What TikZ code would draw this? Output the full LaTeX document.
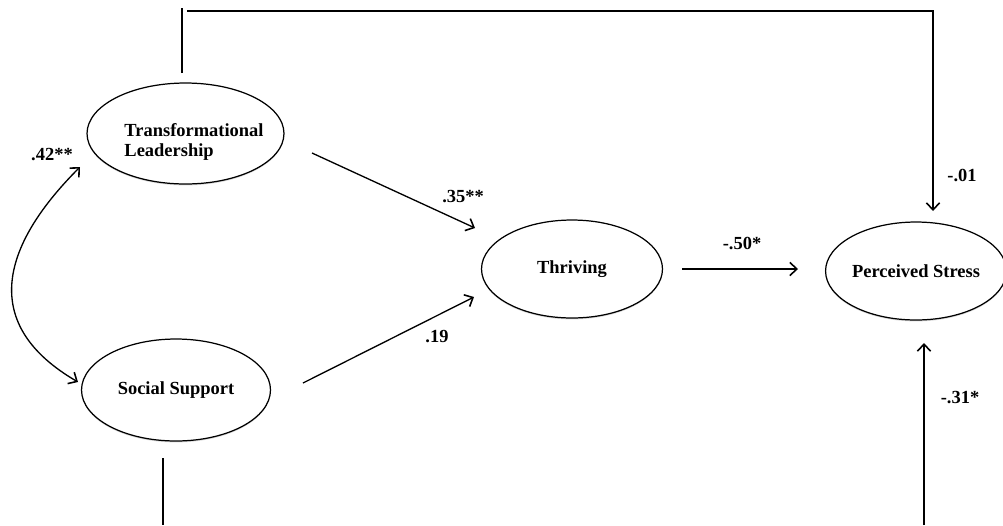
\documentclass[tikz,border=0pt]{standalone}
\usepackage{fontspec}
\setmainfont{Liberation Serif}
\usepackage{tikz}
\usetikzlibrary{shapes.geometric,arrows.meta,shadows}

\begin{document}
\begin{tikzpicture}[x=0.02cm,y=-0.02cm,
            barb/.tip={Straight Barb[length=4pt,width=7.5pt,line width=0.9pt]},
            latent/.style={draw,ellipse,inner sep=0pt,fill=white,line width=0.7pt,
              drop shadow={shadow xshift=0pt,shadow yshift=-0.8pt,opacity=0.3}},
            coef/.style={inner sep=0pt},
            path/.style={line width=0.75pt},
            arr/.style={path,-barb},
            every node/.style={font=\fontsize{10.5}{11.5}\selectfont\bfseries}]
            \useasboundingbox (0,0) rectangle (1003,525);
            % latent variables
            \node [latent,minimum width=3.94cm,minimum height=2.02cm,
              label={[align=left,inner sep=0pt,xshift=0.17cm,yshift=-0.17cm]center:Transformational\\Leadership}] (tl) at (185.5,133.5) {};
            \node [latent,minimum width=3.78cm,minimum height=2.04cm] (ss) at (176,390) {Social Support};
            \node [latent,minimum width=3.62cm,minimum height=1.96cm] (thr) at (572,269) {Thriving};
            \node [latent,minimum width=3.44cm,minimum height=1.96cm] (ps) at (916,271) {Perceived Stress};
            % free ends of the paths
            \coordinate (tlout) at (312,153);
            \coordinate (thrin1) at (475,228);
            \coordinate (ssout) at (303,383);
            \coordinate (thrin2) at (474,297);
            \coordinate (throut) at (682,269);
            \coordinate (psin1) at (798,269);
            \coordinate (tlup) at (182,73);
            \coordinate (tltop) at (182,8);
            \coordinate (bend) at (187,11);
            \coordinate (psin2) at (933,211);
            \coordinate (ssdown) at (163,458);
            \coordinate (ssend) at (163,525);
            \coordinate (psstart) at (924,525);
            \coordinate (psin3) at (924,343);
            \coordinate (covtl) at (80,167);
            \coordinate (covss) at (78,382);
            % paths
            \draw [arr] (tlout) -- (thrin1);
            \draw [arr] (ssout) -- (thrin2);
            \draw [arr] (throut) -- (psin1);
            \draw [path] (tlup) -- (tltop);
            \draw [arr] (bend) -| (psin2);
            \draw [path] (ssdown) -- (ssend);
            \draw [arr] (psstart) -- (psin3);
            \draw [path,barb-barb] (covtl) .. controls (0,247) and (-20,325) .. (covss);
            % coefficients
            \node [coef] (c42) at (52,155) {.42**};
            \node [coef] (c35) at (463,197) {.35**};
            \node [coef] (c19) at (437,337) {.19};
            \node [coef] (c50) at (742,243) {-.50*};
            \node [coef] (c01) at (962,175) {-.01};
            \node [coef] (c31) at (960,398) {-.31*};
\end{tikzpicture}
\end{document}
